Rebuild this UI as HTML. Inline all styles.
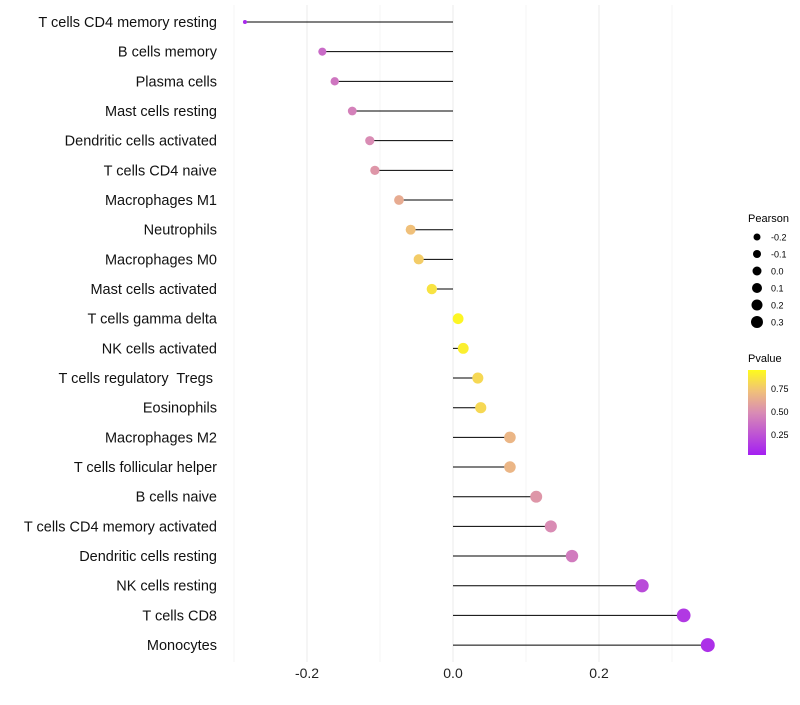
<!DOCTYPE html>
<html><head><meta charset="utf-8"><style>
body{margin:0;background:#fff;}
svg text{font-family:"Liberation Sans",Arial,sans-serif;white-space:pre;}
</style></head><body>
<svg id="chart" width="800" height="700" xmlns="http://www.w3.org/2000/svg">
<defs>
<linearGradient id="pg" x1="0" y1="1" x2="0" y2="0">
<stop offset="0" stop-color="#a41ff2"/>
<stop offset="0.5" stop-color="#d98cb4"/>
<stop offset="0.75" stop-color="#f0c07a"/>
<stop offset="1" stop-color="#fefb1c"/>
</linearGradient>
</defs>
<g id="grid"></g><g id="marks"></g><g id="labels"></g>
<g>
<text x="748" y="222" font-size="11">Pearson</text>
</g>
<g id="sizeleg"></g>
<g>
<text x="748" y="362" font-size="11">Pvalue</text>
<rect x="748" y="370" width="18" height="85" fill="url(#pg)"/>
<text x="771" y="392" font-size="9">0.75</text>
<text x="771" y="415" font-size="9">0.50</text>
<text x="771" y="438" font-size="9">0.25</text>
</g>
</svg>
<script>
const categories=["T cells CD4 memory resting","B cells memory","Plasma cells","Mast cells resting","Dendritic cells activated","T cells CD4 naive","Macrophages M1","Neutrophils","Macrophages M0","Mast cells activated","T cells gamma delta","NK cells activated","T cells regulatory  Tregs ","Eosinophils","Macrophages M2","T cells follicular helper","B cells naive","T cells CD4 memory activated","Dendritic cells resting","NK cells resting","T cells CD8","Monocytes"];
const pearson=[-0.285,-0.179,-0.162,-0.138,-0.114,-0.107,-0.074,-0.058,-0.047,-0.029,0.007,0.014,0.034,0.038,0.078,0.078,0.114,0.134,0.163,0.259,0.316,0.349];
const pvalue=[0.05,0.35,0.4,0.45,0.5,0.55,0.65,0.75,0.8,0.9,0.98,0.95,0.85,0.85,0.7,0.7,0.55,0.5,0.42,0.2,0.12,0.08];
const xTicks=[-0.2,0,0.2];
const xTickLabels=["-0.2","0.0","0.2"];
const sizeLegendValues=[-0.2,-0.1,0.0,0.1,0.2,0.3];
const sizeLegendLabels=["-0.2","-0.1","0.0","0.1","0.2","0.3"];
const NS="http://www.w3.org/2000/svg";
const x=v=>453+v*730;
const y=i=>22+i*29.67;
const rad=v=>2+5*Math.sqrt(Math.max(0,(v+0.285)/0.634));
function mix(a,b,t){return a.map((c,i)=>Math.round(c+(b[i]-c)*t));}
function col(p){const s=[[0,[164,31,242]],[0.5,[217,140,180]],[0.75,[240,192,122]],[1,[254,251,28]]];
for(let i=0;i<s.length-1;i++){if(p<=s[i+1][0]){const t=(p-s[i][0])/(s[i+1][0]-s[i][0]);return "rgb("+mix(s[i][1],s[i+1][1],t).join(",")+")";}}return "rgb(254,251,28)";}
function mk(t,a,p){const e=document.createElementNS(NS,t);for(const k in a)e.setAttribute(k,a[k]);p.appendChild(e);return e;}
const g=document.getElementById("grid"),m=document.getElementById("marks"),l=document.getElementById("labels"),sl=document.getElementById("sizeleg");
[-0.3,-0.2,-0.1,0,0.1,0.2,0.3].forEach(v=>{const e=mk("line",{x1:x(v),x2:x(v),y1:5,y2:662,stroke:Math.abs(Math.round(v*10))%2==0?"#ebebeb":"#f4f4f4","stroke-width":1},g);

});
xTicks.forEach((v,i)=>{const t=mk("text",{x:x(v),y:678,"font-size":14,"text-anchor":"middle",fill:"#222"},l);t.textContent=xTickLabels[i];

});
categories.forEach((c,i)=>{
const ln=mk("line",{x1:x(0),x2:x(pearson[i]),y1:y(i),y2:y(i),stroke:"#000","stroke-width":1},m);


const ci=mk("circle",{cx:x(pearson[i]),cy:y(i),r:rad(pearson[i]),fill:col(pvalue[i])},m);


const t=mk("text",{x:217,y:y(i)+5,"font-size":14.5,"text-anchor":"end",fill:"#111"},l);t.textContent=c;

});
sizeLegendValues.forEach((v,i)=>{const cy=237+i*17;
const ci=mk("circle",{cx:757,cy:cy,r:3.5+(v+0.2)*5,fill:"#000"},sl);


const t=mk("text",{x:771,y:cy+3.5,"font-size":9},sl);t.textContent=sizeLegendLabels[i];

});
</script>
</body></html>
